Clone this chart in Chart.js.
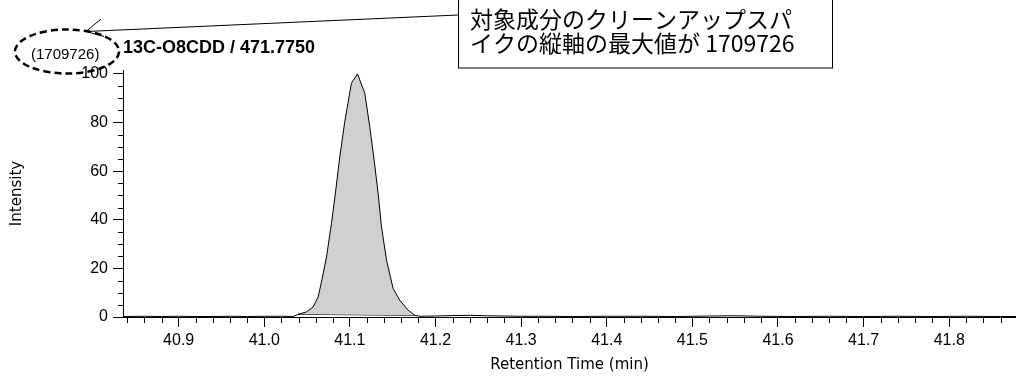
<!DOCTYPE html>
<html>
<head>
<meta charset="utf-8">
<script src="https://cdn.jsdelivr.net/npm/chart.js@4/dist/chart.umd.min.js"></script>
<style>
  html, body { margin: 0; padding: 0; background: #fff; }
  #wrap { width: 1016px; height: 376px; }
</style>
</head>
<body>
<div id="wrap"><canvas id="chromChart" width="1016" height="376"></canvas></div>
<script>
// Retention time (min) and relative intensity (%) of the trace
const retentionTimes = [
  40.835, 40.86, 40.88, 40.90, 40.92, 40.94, 40.96, 40.98, 41.00, 41.02,
  41.0337, 41.0395, 41.0493, 41.057, 41.0629, 41.0668, 41.0727, 41.0785, 41.0835, 41.0882,
  41.094, 41.1018, 41.1089, 41.1174, 41.1232, 41.1283, 41.133, 41.1369, 41.1428, 41.1505,
  41.1583, 41.168, 41.1758, 41.1817, 41.20, 41.22, 41.24, 41.26, 41.28, 41.30,
  41.33, 41.36, 41.40, 41.44, 41.48, 41.52, 41.55, 41.58, 41.62, 41.66,
  41.70, 41.74, 41.78, 41.82, 41.86, 41.878
];
const intensities = [
  0.2, 0.3, 0.2, 0.3, 0.2, 0.2, 0.3, 0.2, 0.3, 0.3,
  0.2, 1.1, 2.1, 4.1, 8.2, 14.4, 24.7, 38.5, 52.2, 65.9,
  80.3, 96.2, 100, 92, 78.3, 64.6, 50.8, 37.1, 23.4, 11.7,
  6.9, 2.8, 0.7, 0.3, 0.4, 0.6, 0.7, 0.5, 0.4, 0.3,
  0.3, 0.2, 0.3, 0.3, 0.2, 0.4, 0.5, 0.3, 0.2, 0.3,
  0.2, 0.3, 0.2, 0.3, 0.2, 0.2
];

// integration baseline under the peak
const baselineTimes = [41.0395, 41.1758];
const baselineIntensities = [1.1, 0.7];

// axis ticks
const xTicks = [40.9, 41.0, 41.1, 41.2, 41.3, 41.4, 41.5, 41.6, 41.7, 41.8];
const yTicks = [0, 20, 40, 60, 80, 100];
const xMinorStep = 0.02;
const yMinorStep = 5;

// texts
const traceTitle = '13C-O8CDD / 471.7750';
const maxValueLabel = '(1709726)';
const noteLines = ['対象成分のクリーンアップスパ', 'イクの縦軸の最大値が 1709726'];

const tracePoints = retentionTimes.map((t, i) => ({ x: t, y: intensities[i] }));
const baselinePoints = baselineTimes.map((t, i) => ({ x: t, y: baselineIntensities[i] }));
const peakPoints = tracePoints.filter(p => p.x >= baselineTimes[0] && p.x <= baselineTimes[1]);

Chart.defaults.font.family = "'Liberation Sans', Arial, sans-serif";
Chart.defaults.color = '#000';

// minor ticks plus the callout drawn over the chart
const extrasPlugin = {
  id: 'extras',
  afterDraw(chart) {
    const ctx = chart.ctx;
    const xs = chart.scales.x;
    const ys = chart.scales.y;
    const axisY = chart.chartArea.bottom;
    const axisX = chart.chartArea.left;
    ctx.save();
    ctx.strokeStyle = '#000';
    ctx.lineWidth = 1;

    // x minor ticks
    const nx = Math.floor((xs.max - xs.min) / xMinorStep) + 1;
    const x0 = Math.ceil(xs.min / xMinorStep) * xMinorStep;
    for (let i = 0; i < nx; i++) {
      const v = +(x0 + i * xMinorStep).toFixed(3);
      if (v > xs.max) break;
      if (xTicks.some(t => Math.abs(t - v) < 1e-6)) continue;
      const px = Math.round(xs.getPixelForValue(v)) + 0.5;
      ctx.beginPath();
      ctx.moveTo(px, axisY);
      ctx.lineTo(px, axisY + 6);
      ctx.stroke();
    }
    // y minor ticks
    for (let v = 0; v <= ys.max; v += yMinorStep) {
      if (yTicks.includes(v)) continue;
      const py = Math.round(ys.getPixelForValue(v)) + 0.5;
      ctx.beginPath();
      ctx.moveTo(axisX - 5, py);
      ctx.lineTo(axisX, py);
      ctx.stroke();
    }

    // trace title
    ctx.fillStyle = '#000';
    ctx.textBaseline = 'middle';
    ctx.textAlign = 'left';
    ctx.font = "bold 18px 'Liberation Sans', Arial, sans-serif";
    ctx.fillText(traceTitle, 123, 48);

    // max value label with dashed ellipse
    ctx.font = "15px 'Liberation Sans', Arial, sans-serif";
    ctx.fillText(maxValueLabel, 31, 55);
    ctx.save();
    ctx.lineWidth = 2.5;
    ctx.setLineDash([7, 4]);
    ctx.beginPath();
    ctx.ellipse(67, 51.5, 52, 22, 0, 0, Math.PI * 2);
    ctx.stroke();
    ctx.restore();

    // callout arrow
    ctx.beginPath();
    ctx.moveTo(458, 15);
    ctx.lineTo(86, 31.5);
    ctx.moveTo(101, 19);
    ctx.lineTo(86, 31.5);
    ctx.lineTo(104, 36.5);
    ctx.stroke();

    // note box
    ctx.fillStyle = '#fff';
    ctx.fillRect(458.5, -1, 374, 69);
    ctx.strokeRect(458.5, -1, 374, 69);
    ctx.fillStyle = '#000';
    ctx.font = "23px 'Noto Sans CJK JP', sans-serif";
    ctx.fillText(noteLines[0], 470, 19);
    ctx.fillText(noteLines[1], 470, 43);
    ctx.restore();
  }
};

const ctx = document.getElementById('chromChart').getContext('2d');
const chart = new Chart(ctx, {
  type: 'scatter',
  data: {
    datasets: [
      {
        label: 'trace',
        data: tracePoints,
        showLine: true,
        borderColor: '#000',
        borderWidth: 1,
        pointRadius: 0,
        tension: 0,
        fill: false
      },
      {
        label: 'peak area',
        data: peakPoints,
        showLine: true,
        borderColor: 'rgba(0,0,0,0)',
        borderWidth: 0,
        backgroundColor: '#d0d0d0',
        pointRadius: 0,
        tension: 0,
        fill: 2
      },
      {
        label: 'baseline',
        data: baselinePoints,
        showLine: true,
        borderColor: '#000',
        borderWidth: 1,
        pointRadius: 0,
        fill: false
      }
    ]
  },
  options: {
    responsive: false,
    animation: false,
    layout: { padding: { top: 70, left: 0, right: 0, bottom: 0 } },
    plugins: {
      legend: { display: false },
      tooltip: { enabled: false },
      title: { display: false }
    },
    scales: {
      x: {
        type: 'linear',
        min: 40.835,
        max: 41.878,
        afterBuildTicks: s => { s.ticks = xTicks.map(v => ({ value: v })); },
        afterFit: s => { s.height = 59; },
        ticks: {
          autoSkip: false,
          maxRotation: 0,
          padding: 4,
          color: '#000',
          font: { size: 16 },
          callback: v => v.toFixed(1)
        },
        grid: { drawOnChartArea: false, tickLength: 10, color: '#000', tickColor: '#000' },
        border: { color: '#000', width: 1 },
        title: {
          display: true,
          text: 'Retention Time (min)',
          color: '#000',
          font: { size: 15, family: "'DejaVu Sans', sans-serif" },
          padding: { top: 0, bottom: 2 }
        }
      },
      y: {
        min: 0,
        max: 101.6,
        afterBuildTicks: s => { s.ticks = yTicks.map(v => ({ value: v })); },
        afterFit: s => { s.width = 123; },
        ticks: { padding: 5, color: '#000', font: { size: 16 } },
        grid: { drawOnChartArea: false, tickLength: 10, color: '#000', tickColor: '#000' },
        border: { color: '#000', width: 1 },
        title: {
          display: true,
          text: 'Intensity',
          color: '#000',
          font: { size: 15, family: "'DejaVu Sans', sans-serif" },
          padding: { top: 8, bottom: 0 }
        }
      }
    }
  },
  plugins: [extrasPlugin]
});
</script>
</body>
</html>
